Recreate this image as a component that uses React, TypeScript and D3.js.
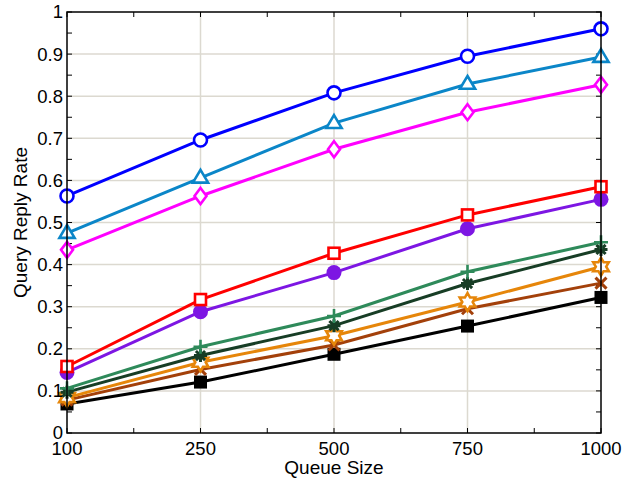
import React from "react";
import * as d3 from "d3";

const categories = ["100", "250", "500", "750", "1000"];
const yTicks = [0, 0.1, 0.2, 0.3, 0.4, 0.5, 0.6, 0.7, 0.8, 0.9, 1];
const yTickLabels = ["0", "0.1", "0.2", "0.3", "0.4", "0.5", "0.6", "0.7", "0.8", "0.9", "1"];

const sBlueCircle = [0.563, 0.696, 0.808, 0.895, 0.960];
const sTriangle = [0.475, 0.606, 0.736, 0.829, 0.893];
const sDiamond = [0.435, 0.563, 0.674, 0.762, 0.827];
const sRedSquare = [0.158, 0.317, 0.427, 0.518, 0.585];
const sPurpleDot = [0.144, 0.288, 0.381, 0.485, 0.555];
const sPlus = [0.106, 0.205, 0.278, 0.383, 0.453];
const sAsterisk = [0.097, 0.184, 0.255, 0.355, 0.436];
const sHexagram = [0.084, 0.168, 0.231, 0.311, 0.395];
const sCross = [0.078, 0.151, 0.209, 0.295, 0.356];
const sBlackSquare = [0.069, 0.121, 0.187, 0.254, 0.322];

type Series = { values: number[]; color: string; marker: string };
const series: Series[] = [
  { values: sBlackSquare, color: "#000000", marker: "squareFilled" },
  { values: sCross, color: "#a3400a", marker: "cross" },
  { values: sHexagram, color: "#e6860a", marker: "hexagram" },
  { values: sAsterisk, color: "#173d25", marker: "asterisk" },
  { values: sPlus, color: "#2e8a5a", marker: "plus" },
  { values: sPurpleDot, color: "#7d16e3", marker: "dot" },
  { values: sRedSquare, color: "#ff0000", marker: "square" },
  { values: sDiamond, color: "#ff00ff", marker: "diamond" },
  { values: sTriangle, color: "#0b86c8", marker: "triangle" },
  { values: sBlueCircle, color: "#0000ff", marker: "circle" },
];

const W = 625, H = 484;
const L = 67, R = 601, T = 12, B = 433;
const FONT = "'Liberation Sans', Arial, Helvetica, sans-serif";

function Marker({ x, y, type, color }: { x: number; y: number; type: string; color: string }) {
  const sw = 2.6;
  switch (type) {
    case "circle":
      return <circle cx={x} cy={y} r={6.5} fill="white" stroke={color} strokeWidth={sw} />;
    case "dot":
      return <circle cx={x} cy={y} r={7.5} fill={color} />;
    case "square":
      return <rect x={x - 5.5} y={y - 5.5} width={11} height={11} fill="white" stroke={color} strokeWidth={sw} />;
    case "squareFilled":
      return <rect x={x - 6.5} y={y - 6.5} width={13} height={13} fill={color} />;
    case "diamond": {
      const r = 8;
      return <path d={`M${x},${y - r}L${x + r * 0.75},${y}L${x},${y + r}L${x - r * 0.75},${y}Z`} fill="white" stroke={color} strokeWidth={sw} />;
    }
    case "triangle": {
      const r = 8;
      return <path d={`M${x},${y - r}L${x + r * 0.95},${y + r * 0.6}L${x - r * 0.95},${y + r * 0.6}Z`} fill="white" stroke={color} strokeWidth={sw} />;
    }
    case "plus": {
      const r = 7;
      return <path d={`M${x - r},${y}H${x + r}M${x},${y - r}V${y + r}`} stroke={color} strokeWidth={sw} />;
    }
    case "cross": {
      const r = 5.5;
      return <path d={`M${x - r},${y - r}L${x + r},${y + r}M${x - r},${y + r}L${x + r},${y - r}`} stroke={color} strokeWidth={sw + 0.4} />;
    }
    case "asterisk": {
      const r = 6.5, d = r * 0.707;
      return <path d={`M${x - r},${y}H${x + r}M${x},${y - r}V${y + r}M${x - d},${y - d}L${x + d},${y + d}M${x - d},${y + d}L${x + d},${y - d}`} stroke={color} strokeWidth={sw + 0.4} />;
    }
    case "hexagram": {
      const ro = 9, ri = ro / Math.sqrt(3);
      const pts: [number, number][] = [];
      for (let i = 0; i < 12; i++) {
        const a = -Math.PI / 2 + (i * Math.PI) / 6;
        const rr = i % 2 === 0 ? ro : ri;
        pts.push([x + rr * Math.cos(a), y + rr * Math.sin(a)]);
      }
      return <path d={d3.line()(pts) + "Z"} fill="white" stroke={color} strokeWidth={sw} strokeLinejoin="miter" />;
    }
  }
  return null;
}

export default function App() {
  const x = d3.scalePoint<string>().domain(categories).range([L, R]);
  const y = d3.scaleLinear().domain([0, 1]).range([B, T]);
  const line = d3.line<number>().x((_, i) => x(categories[i]) as number).y((d) => y(d));
  const xMinor = categories.slice(0, -1).map((c, i) => ((x(c) as number) + (x(categories[i + 1]) as number)) / 2);
  const yMinor = d3.range(0.05, 1, 0.1);
  const gridColor = "#dcd9d0";
  const tk = 5;

  return (
    <svg width={W} height={H} style={{ position: "absolute", left: 0, top: 0, background: "white" }} fontFamily={FONT}>
      <rect width={W} height={H} fill="white" />
      {/* grid */}
      {yTicks.slice(1, -1).map((t) => (
        <line key={"gy" + t} x1={L} x2={R} y1={y(t)} y2={y(t)} stroke={gridColor} strokeWidth={1.5} />
      ))}
      {categories.slice(1, -1).map((c) => (
        <line key={"gx" + c} x1={x(c)} x2={x(c)} y1={T} y2={B} stroke={gridColor} strokeWidth={1.5} />
      ))}
      {/* ticks */}
      {yTicks.map((t) => (
        <g key={"ty" + t}>
          <line x1={L} x2={L + tk} y1={y(t)} y2={y(t)} stroke="black" strokeWidth={1} />
          <line x1={R} x2={R - tk} y1={y(t)} y2={y(t)} stroke="black" strokeWidth={1} />
        </g>
      ))}
      {yMinor.map((t) => (
        <g key={"tym" + t}>
          <line x1={L} x2={L + tk} y1={y(t)} y2={y(t)} stroke="black" strokeWidth={1} />
          <line x1={R} x2={R - tk} y1={y(t)} y2={y(t)} stroke="black" strokeWidth={1} />
        </g>
      ))}
      {[...categories.map((c) => x(c) as number), ...xMinor].map((xv, i) => (
        <g key={"tx" + i}>
          <line x1={xv} x2={xv} y1={B} y2={B - tk} stroke="black" strokeWidth={1} />
          <line x1={xv} x2={xv} y1={T} y2={T + tk} stroke="black" strokeWidth={1} />
        </g>
      ))}
      {/* series */}
      {series.map((s, si) => (
        <g key={"s" + si}>
          <path d={line(s.values) as string} fill="none" stroke={s.color} strokeWidth={3} />
          {s.values.map((v, i) => (
            <Marker key={i} x={x(categories[i]) as number} y={y(v)} type={s.marker} color={s.color} />
          ))}
        </g>
      ))}
      {/* axes box */}
      <rect x={L} y={T} width={R - L} height={B - T} fill="none" stroke="black" strokeWidth={1.5} />
      {/* tick labels */}
      {yTicks.map((t, i) => (
        <text key={"ly" + t} x={L - 4} y={y(t)} dy="0.35em" textAnchor="end" fontSize={18.5} fill="black">
          {yTickLabels[i]}
        </text>
      ))}
      {categories.map((c) => (
        <text key={"lx" + c} x={x(c)} y={B + 22} textAnchor="middle" fontSize={18.5} fill="black">
          {c}
        </text>
      ))}
      <text x={(L + R) / 2} y={474} textAnchor="middle" fontSize={19} fill="black">Queue Size</text>
      <text transform={`translate(${27},${(T + B) / 2}) rotate(-90)`} textAnchor="middle" fontSize={19} fill="black">Query Reply Rate</text>
    </svg>
  );
}
